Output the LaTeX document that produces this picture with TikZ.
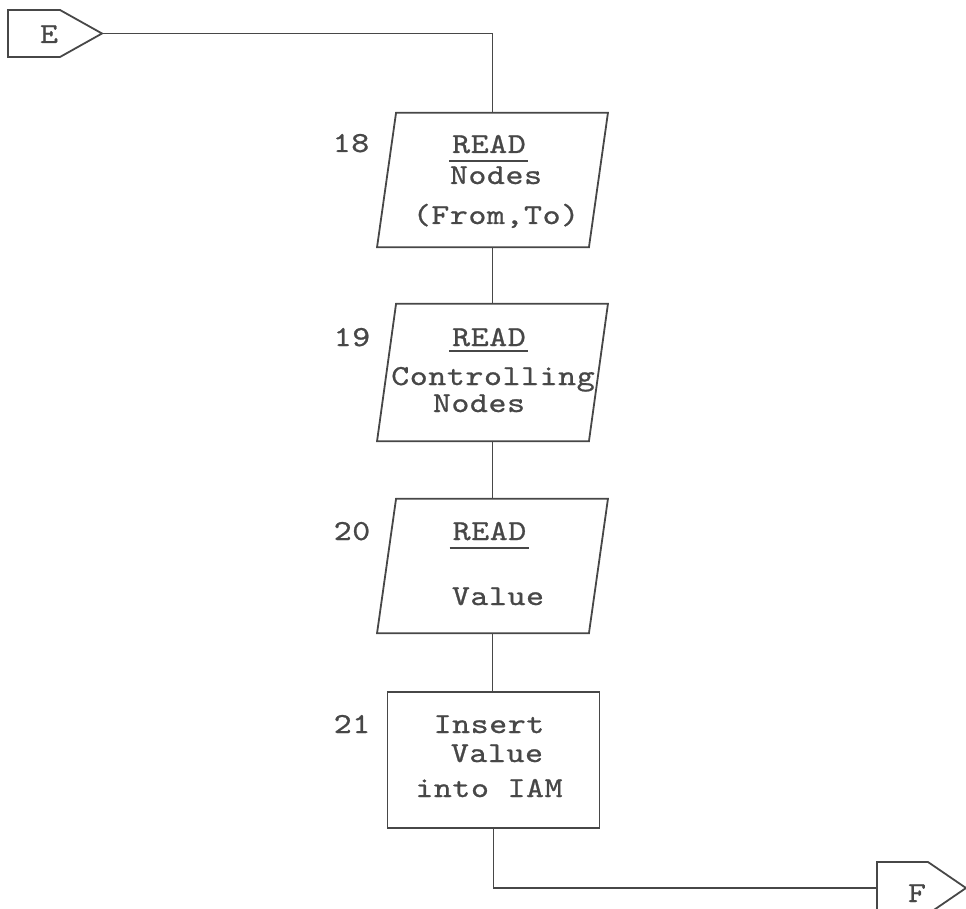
\documentclass[tikz,border=0pt]{standalone}
\usepackage{fontspec}
\setmonofont{lmmono10-regular.otf}[FakeStretch=1.18, LetterSpace=2, FakeBold=0.8]
\begin{document}
\begin{tikzpicture}[x=1pt,y=-1pt,
  line/.style={draw=black!72, line width=1.8pt},
  txt/.style={font=\ttfamily\fontsize{29}{35}\selectfont, text=black!72, anchor=base, inner sep=0pt},
  bodybox/.style={rectangle, draw=none, inner sep=0pt, minimum width=211.5pt},
  procbox/.style={rectangle, line, inner sep=0pt, minimum width=212pt, minimum height=136pt},
  uline/.style={draw=black!72, line width=1.8pt},
]
\useasboundingbox (0,0) rectangle (966,909);

% off-page connector E
\draw[line] (8,10) -- (60,10) -- (102,33.5) -- (60,57) -- (8,57) -- cycle;
\node[txt] (E) at (49,43) {E};
\coordinate (Eout) at (102,33.5);

% step 18: input / output
\node[bodybox, minimum height=134pt] (n18) at (492.5,180) {};
\draw[line] ([xshift=9.5pt]n18.north west) -- ([xshift=9.5pt]n18.north east)
  -- ([xshift=-9.5pt]n18.south east) -- ([xshift=-9.5pt]n18.south west) -- cycle;
\node[txt] (n18num) at (351,152) {18};
\node[txt] (n18a) at (489,153) {READ};
\draw[uline] ([xshift=-3pt,yshift=-8pt]n18a.base west) -- ([xshift=2pt,yshift=-8pt]n18a.base east);
\node[txt] (n18b) at (496,184) {Nodes};
\node[txt] (n18c) at (496,224) {(From,To)};

% step 19
\node[bodybox, minimum height=137pt] (n19) at (492.5,372.5) {};
\draw[line] ([xshift=9.5pt]n19.north west) -- ([xshift=9.5pt]n19.north east)
  -- ([xshift=-9.5pt]n19.south east) -- ([xshift=-9.5pt]n19.south west) -- cycle;
\node[txt] (n19num) at (352,346) {19};
\node[txt] (n19a) at (489,346) {READ};
\draw[uline] ([xshift=-3pt,yshift=-5pt]n19a.base west) -- ([xshift=2pt,yshift=-5pt]n19a.base east);
\node[txt] (n19b) at (493,385) {Controlling};
\node[txt] (n19c) at (479,412) {Nodes};

% step 20
\node[bodybox, minimum height=134pt] (n20) at (492.5,566) {};
\draw[line] ([xshift=9.5pt]n20.north west) -- ([xshift=9.5pt]n20.north east)
  -- ([xshift=-9.5pt]n20.south east) -- ([xshift=-9.5pt]n20.south west) -- cycle;
\node[txt] (n20num) at (352,540) {20};
\node[txt] (n20a) at (489.5,540) {READ};
\draw[uline] ([xshift=-3pt,yshift=-8pt]n20a.base west) -- ([xshift=2pt,yshift=-8pt]n20a.base east);
\node[txt] (n20b) at (498,605) {Value};

% step 21: process
\node[procbox] (n21) at (493.5,760) {};
\node[txt] (n21num) at (352,733) {21};
\node[txt] (n21a) at (489,733) {Insert};
\node[txt] (n21b) at (497,762) {Value};
\node[txt] (n21c) at (489,797) {into IAM};

% off-page connector F
\draw[line] (877,862) -- (928,862) -- (966,888) -- (928,914) -- (877,914) -- cycle;
\node[txt] (F) at (917,902) {F};
\coordinate (Fin) at (877,888);

% flow lines
\draw[line] (Eout) -| (n18.north);
\draw[line] (n18.south) -- (n19.north);
\draw[line] (n19.south) -- (n20.north);
\draw[line] (n20.south) -- (n21.north -| n20.south);
\draw[line] (n21.south) |- (Fin);
\end{tikzpicture}
\end{document}
